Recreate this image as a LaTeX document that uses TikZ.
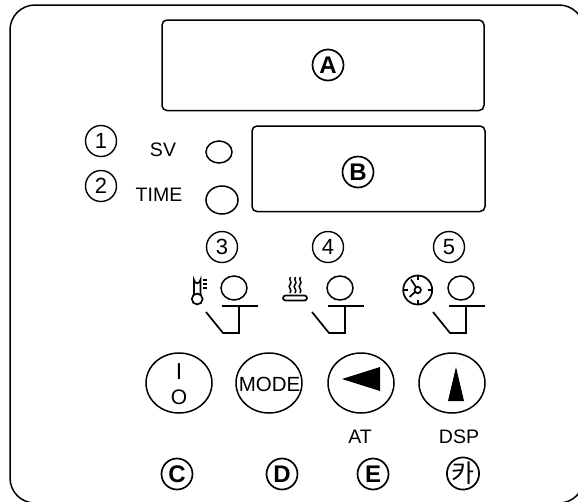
\documentclass[tikz,border=0pt]{standalone}
\usepackage{fontspec}
\setmainfont{Liberation Sans}
\newfontfamily\krfont{Noto Sans CJK KR}
\usetikzlibrary{shapes.geometric}
\tikzset{
  every node/.style={font=\fontsize{19.5}{20}\selectfont},
  ln/.style={draw=black,line width=1.5pt},
  panel/.style={ln,rounded corners=5pt},
  numc/.style={circle,draw=black,line width=1.4pt,minimum size=31pt,inner sep=0pt,font=\fontsize{22}{22}\selectfont},
  letc/.style={circle,draw=black,line width=1.7pt,minimum size=31pt,inner sep=0pt,font=\fontsize{24}{24}\bfseries\selectfont},
  lab/.style={inner sep=0pt},
  bigbtn/.style={ellipse,draw=black,line width=1.5pt,minimum width=66pt,minimum height=60pt,inner sep=0pt},
  sw/.style={line width=1.7pt,line join=miter},
  icon/.style={line width=1.7pt},
}
\begin{document}
\begin{tikzpicture}[x=1pt,y=-1pt]
\useasboundingbox (0,0) rectangle (578,501);
\clip (0,0) rectangle (578,501);
\draw[ln,rounded corners=25pt] (10,5) rectangle (584,503);
\draw[panel] (162,20) rectangle (484,110.5);
\draw[panel] (252,126) rectangle (485,211.5);
\node[letc] (A) at (328,65) {A};
\node[letc] (B) at (358,172) {B};
\node[numc] (n1) at (101,141) {1};
\node[numc] (n2) at (101,186) {2};
\node[lab] (sv) at (163,150) {SV};
\node[lab] (time) at (159,195) {TIME};
\node[ellipse,ln,minimum width=26pt,minimum height=22pt,inner sep=0pt] (ledsv) at (219,152) {};
\node[ellipse,ln,minimum width=32pt,minimum height=28pt,inner sep=0pt] (ledtime) at (222,200) {};
\node[numc] (n3) at (222,247) {3};
\node[numc] (n4) at (328,247) {4};
\node[numc] (n5) at (449,247) {5};
% switch groups
\foreach \nm/\dx in {p/0,q/106,r/227}{
  \begin{scope}[xshift=\dx pt]
    \node[ellipse,ln,minimum width=26pt,minimum height=24pt,inner sep=0pt] (led\nm) at (234,288) {};
    \coordinate (barl\nm) at (222,306);
    \coordinate (barr\nm) at (258,306);
    \coordinate (top\nm) at (239,306);
    \coordinate (bot\nm) at (239,333);
    \coordinate (botl\nm) at (223,333);
    \coordinate (diag\nm) at (206,312);
    \draw[sw] (barl\nm) -- (barr\nm);
    \draw[sw] (top\nm) -- (bot\nm) -- (botl\nm) -- (diag\nm);
  \end{scope}
}
% thermometer
\draw[icon] (194,295) -- (194,280) arc[start angle=180,end angle=0,radius=3.2] -- (200.4,295);
\draw[icon] (197.2,299) circle[radius=5.4];
\draw[icon] (203,280) -- (207,280) (203,284) -- (207,284) (203,288) -- (207,288);
% steam
\draw[icon,rounded corners=2.5pt] (283,295.5) rectangle (307,300.5);
\foreach \sx in {290,295,300}{
  \draw[line width=1.5pt] (\sx,293) .. controls (\sx+3,290) and (\sx-3,287) .. (\sx,284.5) .. controls (\sx+3,282) and (\sx-2,280) .. (\sx+0.5,277);
}
% clock
\draw[icon] (417.7,290) circle[radius=14.5];
\draw[icon] (417.7,290) circle[radius=3.2];
\draw[icon] (417.7,275.5) -- (417.7,280) (417.7,300) -- (417.7,304.5) (403.2,290) -- (407.7,290) (427.7,290) -- (432.2,290);
\draw[icon] (416,287) -- (411,279.5) (415,292) -- (409.5,297);
% buttons
\node[bigbtn] (bc) at (179,383) {};
\node[bigbtn] (bd) at (269,383) {};
\node[bigbtn] (be) at (361,383) {};
\node[bigbtn] (bf) at (452,383) {};
\node[lab,font=\fontsize{23}{23}\selectfont] (bci) at (179,372) {I};
\node[lab,font=\fontsize{21}{22}\selectfont] (bco) at (179,397) {O};
\node[lab,font=\fontsize{20.5}{22}\selectfont] (mode) at (269.5,384) {MODE};
\fill (342,379) -- (380,367) -- (380,391) -- cycle;
\fill (456,367) -- (464,401) -- (448,401) -- cycle;
\node[lab] (at) at (360,437) {AT};
\node[lab] (dsp) at (459,437) {DSP};
\node[letc] (C) at (177,474) {C};
\node[letc] (D) at (282,474) {D};
\node[letc] (E) at (373,474) {E};
\node[letc,font=\fontsize{25}{26}\krfont\selectfont] (K) at (463,473.5) {카};
\end{tikzpicture}
\end{document}
